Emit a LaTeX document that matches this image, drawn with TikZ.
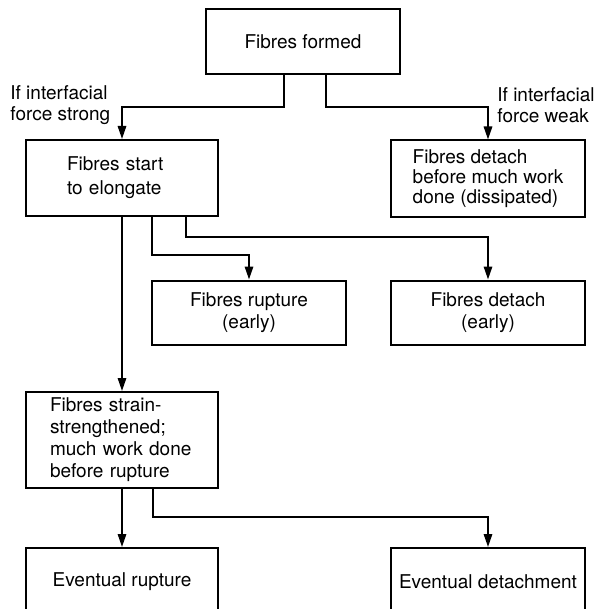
\documentclass[tikz,border=0pt]{standalone}
\usepackage{fontspec}
\setmainfont{TeX Gyre Heros}
\usetikzlibrary{arrows.meta}
\begin{document}
\begin{tikzpicture}[x=0.5pt,y=-0.5pt,
  box/.style={draw,line width=1pt,inner sep=2pt,align=center,
    font=\fontsize{9.5}{11}\selectfont},
  lbl/.style={inner sep=0pt,align=left,font=\fontsize{9.5}{10.5}\selectfont},
  arr/.style={line width=0.9pt,-{Triangle[length=6.5pt,width=4.2pt]}}]
\useasboundingbox (0,0) rectangle (600,609);
\clip (0,0) rectangle (600,609);
% boxes
\node[box,minimum width=97pt,minimum height=32.5pt] (top) at (303,41.5) {Fibres formed};
\node[box,minimum width=96pt,minimum height=38pt,align=left,text width=55pt,inner xsep=20.5pt]
  (start) at (122,178) {Fibres start\\[1pt]to elongate};
\node[box,minimum width=97pt,minimum height=38pt,align=left,font=\fontsize{9.5}{10}\selectfont]
  (detachw) at (488,178.5) {Fibres detach\\before much work\\done (dissipated)};
\node[box,minimum width=97pt,minimum height=32pt] (rupture) at (249,312.5) {Fibres rupture\\(early)};
\node[box,minimum width=97pt,minimum height=32pt] (detache) at (488,312.5) {Fibres detach\\(early)};
\node[box,minimum width=96pt,minimum height=48pt,align=left,text width=72pt,inner xsep=12pt]
  (strain) at (122,440)
  {Fibres strain-\\strengthened;\\much work done\\before rupture};
\node[box,minimum width=96pt,minimum height=34pt] (evr) at (122,582) {Eventual rupture};
\node[box,minimum width=97pt,minimum height=34pt] (evd) at (488,582) {Eventual detachment};
% labels
\node[lbl,anchor=west] (lstrong) at (10,105) {If interfacial\\force strong};
\node[lbl,anchor=west] (lweak) at (497,105) {If interfacial\\force weak};
% connectors
\draw[arr] ([xshift=-9.5pt]top.south) -- ++(0,32) -| (start.north);
\draw[arr] ([xshift=11.5pt]top.south) -- ++(0,32) -| (detachw.north);
\draw[arr] (start.south) -- (strain.north);
\draw[arr] ([xshift=15pt]start.south) -- ++(0,38) -| (rupture.north);
\draw[arr] ([xshift=32pt]start.south) -- ++(0,20) -| (detache.north);
\draw[arr] (strain.south) -- (evr.north);
\draw[arr] ([xshift=15.5pt]strain.south) -- ++(0,28) -| (evd.north);
\end{tikzpicture}
\end{document}
